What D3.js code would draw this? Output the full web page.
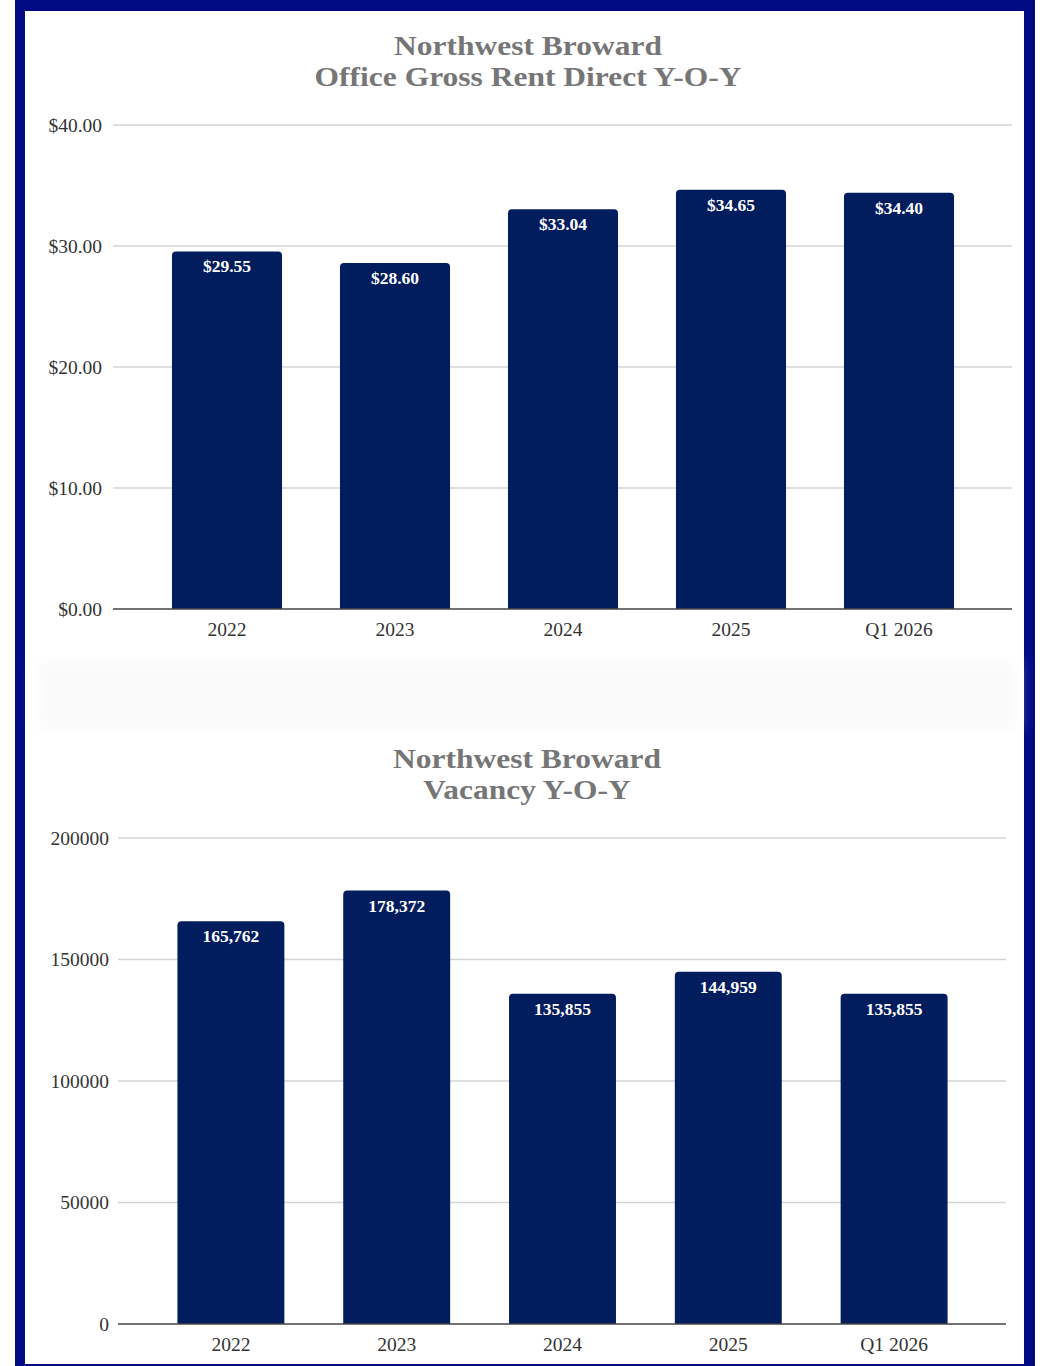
<!DOCTYPE html>
<html>
<head>
<meta charset="utf-8">
<script src="https://cdn.jsdelivr.net/npm/d3@7"></script>
<style>
  html, body { margin: 0; padding: 0; background: #fff; }
  svg { display: block; }
</style>
</head>
<body>
<svg id="chart" width="1040" height="1366"></svg>
<script>
// Period labels shared by both panels
const periods = ["2022", "2023", "2024", "2025", "Q1 2026"];

// Office gross rent, direct ($ / sq ft)
const rentValues = [29.55, 28.60, 33.04, 34.65, 34.40];
const rentTicks = [0, 10, 20, 30, 40];

// Vacant square footage
const vacancyValues = [165762, 178372, 135855, 144959, 135855];
const vacancyTicks = [0, 50000, 100000, 150000, 200000];

const rentTitle = ["Northwest Broward", "Office Gross Rent Direct Y-O-Y"];
const vacancyTitle = ["Northwest Broward", "Vacancy Y-O-Y"];

const SERIF = '"Liberation Serif", "Times New Roman", serif';
const BAR = "#021d5e";
const FRAME = "#020b84";

const svg = d3.select("#chart");

// page frame
svg.append("rect").attr("x", 0).attr("y", 0).attr("width", 1040).attr("height", 1366).attr("fill", "#fff");
svg.append("rect").attr("x", 15).attr("y", 0).attr("width", 1020).attr("height", 11).attr("fill", FRAME);
svg.append("rect").attr("x", 15).attr("y", 0).attr("width", 10).attr("height", 1366).attr("fill", FRAME);
svg.append("rect").attr("x", 1024).attr("y", 0).attr("width", 11).attr("height", 1366).attr("fill", FRAME);
svg.append("rect").attr("x", 15).attr("y", 1364).attr("width", 1020).attr("height", 2).attr("fill", FRAME);

// faint haze band between the two panels
const defs = svg.append("defs");
defs.append("filter").attr("id", "soft").append("feGaussianBlur").attr("stdDeviation", 8);
svg.append("rect").attr("x", 40).attr("y", 662).attr("width", 975).attr("height", 66)
  .attr("fill", "#f9f9f9").attr("filter", "url(#soft)");

function topRoundedBar(x, y, w, h, r) {
  r = Math.min(r, h);
  return `M${x},${y + h}V${y + r}Q${x},${y} ${x + r},${y}H${x + w - r}Q${x + w},${y} ${x + w},${y + r}V${y + h}Z`;
}

function panel(opts) {
  const g = svg.append("g");
  const y = d3.scaleLinear().domain([0, opts.max]).range([opts.bottom, opts.top]);
  const x = d3.scaleBand().domain(periods).range(opts.xRange)
    .paddingInner(opts.pad).paddingOuter(opts.pad / 2);

  // two-line title, set slightly wide
  const title = g.append("text").attr("text-anchor", "middle")
    .attr("transform", `translate(${opts.titleX},0) scale(1.125,1)`)
    .style("font-family", SERIF).style("font-size", "28px").style("font-weight", "bold")
    .attr("fill", "#767676");
  title.selectAll("tspan").data(opts.title).join("tspan")
    .attr("x", 0).attr("y", (d, i) => opts.titleY + i * 31).text(d => d);

  // value axis labels
  const yAxis = d3.axisLeft(y).tickValues(opts.ticks).tickSize(0).tickPadding(0)
    .tickFormat(opts.tickFormat);
  const ya = g.append("g").attr("transform", `translate(${opts.labelX},0)`).call(yAxis);
  ya.select(".domain").remove();
  ya.selectAll("text").style("font-family", SERIF).style("font-size", "19.5px")
    .attr("fill", "#333").attr("dy", "0.32em");

  // gridlines
  g.selectAll("line.grid").data(opts.ticks.filter(t => t !== 0)).join("line")
    .attr("class", "grid")
    .attr("x1", opts.gridX[0]).attr("x2", opts.gridX[1])
    .attr("y1", d => y(d)).attr("y2", d => y(d))
    .attr("stroke", "#d4d4d4").attr("stroke-width", 1.5);

  // bars
  g.selectAll("path.bar").data(opts.values).join("path")
    .attr("class", "bar")
    .attr("d", (d, i) => topRoundedBar(x(periods[i]), y(d), x.bandwidth(), y(0) - y(d), 4))
    .attr("fill", BAR);

  // baseline
  g.append("line").attr("x1", opts.gridX[0]).attr("x2", opts.gridX[1])
    .attr("y1", y(0)).attr("y2", y(0)).attr("stroke", "#444").attr("stroke-width", 1.6);

  // value labels
  g.selectAll("text.val").data(opts.values).join("text")
    .attr("class", "val")
    .attr("x", (d, i) => x(periods[i]) + x.bandwidth() / 2)
    .attr("y", d => y(d) + 21)
    .attr("text-anchor", "middle").style("font-family", SERIF)
    .style("font-size", "17.5px").style("font-weight", "bold")
    .attr("fill", "#fff").text(opts.valueFormat);

  // category axis
  const xAxis = d3.axisBottom(x).tickSize(0).tickPadding(0);
  const xa = g.append("g").attr("transform", `translate(0,${y(0) + 27})`).call(xAxis);
  xa.select(".domain").remove();
  xa.selectAll("text").style("font-family", SERIF).style("font-size", "19.5px")
    .attr("fill", "#333").attr("dy", 0);
}

panel({
  title: rentTitle, titleX: 528, titleY: 55,
  max: 40, top: 125, bottom: 609,
  xRange: [143, 983], pad: 0.345,
  gridX: [113, 1012], labelX: 102,
  ticks: rentTicks,
  tickFormat: d => "$" + d3.format(".2f")(d),
  values: rentValues,
  valueFormat: d => "$" + d3.format(".2f")(d)
});

panel({
  title: vacancyTitle, titleX: 527, titleY: 768,
  max: 200000, top: 838, bottom: 1324,
  xRange: [148, 977], pad: 0.355,
  gridX: [118, 1006], labelX: 109,
  ticks: vacancyTicks,
  tickFormat: d => String(d),
  values: vacancyValues,
  valueFormat: d => d3.format(",")(d)
});
</script>
</body>
</html>
